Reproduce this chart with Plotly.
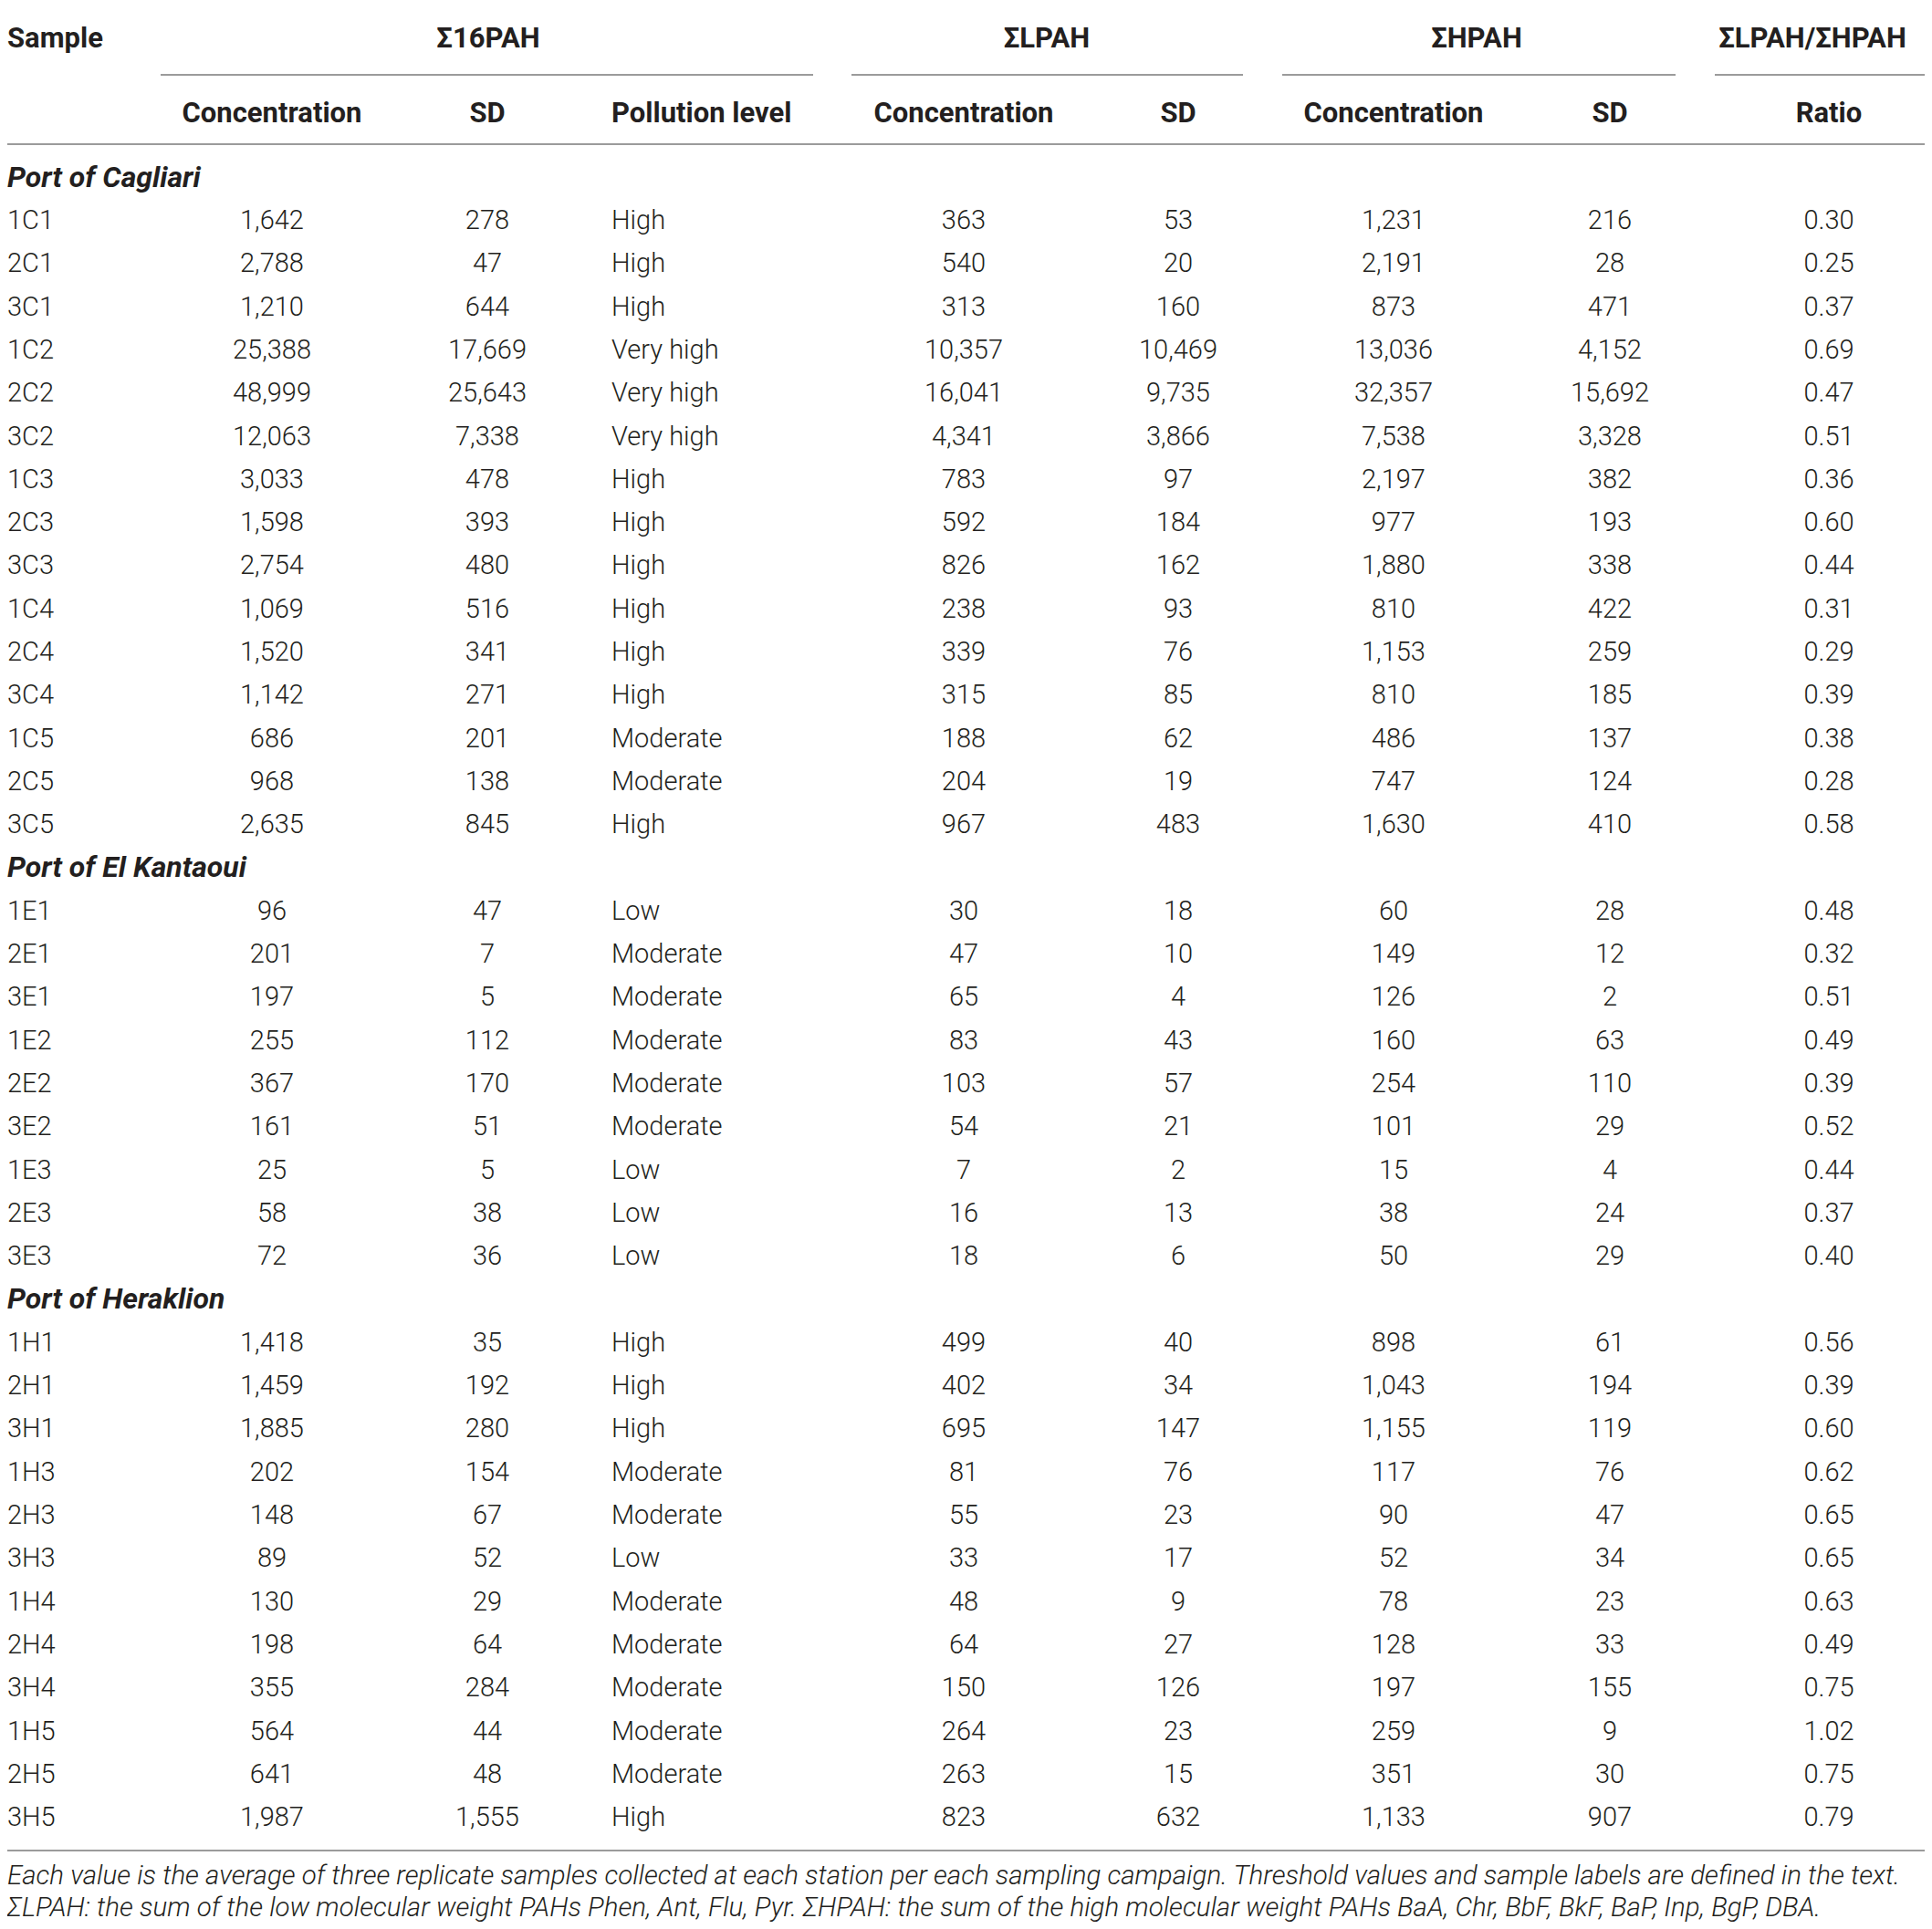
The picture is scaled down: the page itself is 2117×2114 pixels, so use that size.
""" Table of PAH concentrations (Σ16PAH, ΣLPAH, ΣHPAH) per sample and port,
    drawn with plotly as text marks on a hidden pixel-like axis """

import plotly.graph_objects as go

ports = ["Port of Cagliari", "Port of El Kantaoui", "Port of Heraklion"]
port_sizes = [15, 9, 12]

samples = [
    "1C1", "2C1", "3C1", "1C2", "2C2", "3C2", "1C3", "2C3", "3C3", "1C4", "2C4", "3C4", "1C5", "2C5", "3C5",
    "1E1", "2E1", "3E1", "1E2", "2E2", "3E2", "1E3", "2E3", "3E3",
    "1H1", "2H1", "3H1", "1H3", "2H3", "3H3", "1H4", "2H4", "3H4", "1H5", "2H5", "3H5",
]
conc_16 = [
    1642, 2788, 1210, 25388, 48999, 12063, 3033, 1598, 2754, 1069, 1520, 1142, 686, 968, 2635,
    96, 201, 197, 255, 367, 161, 25, 58, 72,
    1418, 1459, 1885, 202, 148, 89, 130, 198, 355, 564, 641, 1987,
]
sd_16 = [
    278, 47, 644, 17669, 25643, 7338, 478, 393, 480, 516, 341, 271, 201, 138, 845,
    47, 7, 5, 112, 170, 51, 5, 38, 36,
    35, 192, 280, 154, 67, 52, 29, 64, 284, 44, 48, 1555,
]
pollution = [
    "High", "High", "High", "Very high", "Very high", "Very high", "High", "High", "High",
    "High", "High", "High", "Moderate", "Moderate", "High",
    "Low", "Moderate", "Moderate", "Moderate", "Moderate", "Moderate", "Low", "Low", "Low",
    "High", "High", "High", "Moderate", "Moderate", "Low", "Moderate", "Moderate", "Moderate",
    "Moderate", "Moderate", "High",
]
conc_lpah = [
    363, 540, 313, 10357, 16041, 4341, 783, 592, 826, 238, 339, 315, 188, 204, 967,
    30, 47, 65, 83, 103, 54, 7, 16, 18,
    499, 402, 695, 81, 55, 33, 48, 64, 150, 264, 263, 823,
]
sd_lpah = [
    53, 20, 160, 10469, 9735, 3866, 97, 184, 162, 93, 76, 85, 62, 19, 483,
    18, 10, 4, 43, 57, 21, 2, 13, 6,
    40, 34, 147, 76, 23, 17, 9, 27, 126, 23, 15, 632,
]
conc_hpah = [
    1231, 2191, 873, 13036, 32357, 7538, 2197, 977, 1880, 810, 1153, 810, 486, 747, 1630,
    60, 149, 126, 160, 254, 101, 15, 38, 50,
    898, 1043, 1155, 117, 90, 52, 78, 128, 197, 259, 351, 1133,
]
sd_hpah = [
    216, 28, 471, 4152, 15692, 3328, 382, 193, 338, 422, 259, 185, 137, 124, 410,
    28, 12, 2, 63, 110, 29, 4, 24, 29,
    61, 194, 119, 76, 47, 34, 23, 33, 155, 9, 30, 907,
]
ratio = [
    0.30, 0.25, 0.37, 0.69, 0.47, 0.51, 0.36, 0.60, 0.44, 0.31, 0.29, 0.39, 0.38, 0.28, 0.58,
    0.48, 0.32, 0.51, 0.49, 0.39, 0.52, 0.44, 0.37, 0.40,
    0.56, 0.39, 0.60, 0.62, 0.65, 0.65, 0.63, 0.49, 0.75, 1.02, 0.75, 0.79,
]

group_headers = ["Σ16PAH", "ΣLPAH", "ΣHPAH", "ΣLPAH/ΣHPAH"]
sub_headers = ["Concentration", "SD", "Pollution level", "Concentration", "SD",
               "Concentration", "SD", "Ratio"]
footnotes = [
    "Each value is the average of three replicate samples collected at each station per each "
    "sampling campaign. Threshold values and sample labels are defined in the text.",
    "ΣLPAH: the sum of the low molecular weight PAHs Phen, Ant, Flu, Pyr. ΣHPAH: the sum of the "
    "high molecular weight PAHs BaA, Chr, BbF, BkF, BaP, Inp, BgP, DBA.",
]

# Layout of the table (pixel units on the hidden axes)
W, H = 2117, 2114
PAD = 8  # the page body margin; the axes are offset so that units stay page pixels
FONT = "Roboto"
SIZE = 29
HEAD_SIZE = 31
PORT_SIZE = 32
NOTE_SIZE = 29.5
TXT = "#231f20"
RULE = "#9b9b9b"

# column anchor x and text position for the 8 value columns
col_x = [298, 534, 670, 1056, 1291, 1527, 1764, 2004]
col_pos = ["middle center", "middle center", "middle right", "middle center",
           "middle center", "middle center", "middle center", "middle center"]
# group spans (underline extent) and header centers
group_span = [(176, 891), (933, 1362), (1405, 1836), (1879, 2117)]
group_x = [535, 1147, 1618, 1986]

y_head1, y_head2 = 44, 126
y_first, row_step = 196.5, 47.3

fmt_int = lambda v: f"{v:,}"
columns = [
    [fmt_int(v) for v in conc_16],
    [fmt_int(v) for v in sd_16],
    pollution,
    [fmt_int(v) for v in conc_lpah],
    [fmt_int(v) for v in sd_lpah],
    [fmt_int(v) for v in conc_hpah],
    [fmt_int(v) for v in sd_hpah],
    [f"{v:.2f}" for v in ratio],
]

# assign row index: port label row then its samples
port_rows, sample_rows = [], []
r = 0
for n in port_sizes:
    port_rows.append(r)
    r += 1
    sample_rows.extend(range(r, r + n))
    r += n
row_y = lambda i: y_first + i * row_step
last_y = row_y(sample_rows[-1])

fig = go.Figure()

light = dict(family=FONT, size=SIZE, color=TXT, weight=300)
bold = dict(family=FONT, size=HEAD_SIZE, color=TXT, weight=700)

# sample labels
fig.add_scatter(
    x=[PAD] * len(samples), y=[row_y(i) for i in sample_rows], text=samples,
    mode="text", textposition="middle right", textfont=light, cliponaxis=False,
)

# value columns
for cx, pos, vals in zip(col_x, col_pos, columns):
    fig.add_scatter(
        x=[cx] * len(vals), y=[row_y(i) for i in sample_rows], text=vals,
        mode="text", textposition=pos, textfont=light, cliponaxis=False,
    )

# port labels (bold italic)
fig.add_scatter(
    x=[PAD] * len(ports), y=[row_y(i) for i in port_rows], text=ports,
    mode="text", textposition="middle right", cliponaxis=False,
    textfont=dict(family=FONT, size=PORT_SIZE, color=TXT, weight=700, style="italic"),
)

# headers
fig.add_scatter(
    x=[PAD] + group_x, y=[y_head1] * (len(group_x) + 1), text=["Sample"] + group_headers,
    mode="text", textposition=["middle right"] + ["middle center"] * len(group_x),
    textfont=bold, cliponaxis=False,
)
fig.add_scatter(
    x=col_x, y=[y_head2] * len(col_x), text=sub_headers,
    mode="text", textposition=col_pos, textfont=bold, cliponaxis=False,
)

# footnotes
fig.add_scatter(
    x=[PAD, PAD], y=[last_y + 64, last_y + 99], text=footnotes,
    mode="text", textposition="middle right", cliponaxis=False,
    textfont=dict(family=FONT, size=NOTE_SIZE, color=TXT, weight=300, style="italic"),
)

# rules
rules = [(PAD, W, 5), (PAD, W, 158), (PAD, W, last_y + 34)]
rules += [(a, b, 82) for a, b in group_span]
for x0, x1, yy in rules:
    fig.add_shape(type="line", x0=x0, x1=x1, y0=yy, y1=yy, xref="x", yref="y",
                  line=dict(color=RULE, width=2))

fig.update_layout(
    width=W - PAD, height=H - PAD,
    margin=dict(l=0, r=0, t=0, b=0),
    paper_bgcolor="white", plot_bgcolor="white",
    showlegend=False,
    xaxis=dict(range=[PAD, W], visible=False, fixedrange=True),
    yaxis=dict(range=[H, PAD], visible=False, fixedrange=True),
)

fig.write_html("out.html")
